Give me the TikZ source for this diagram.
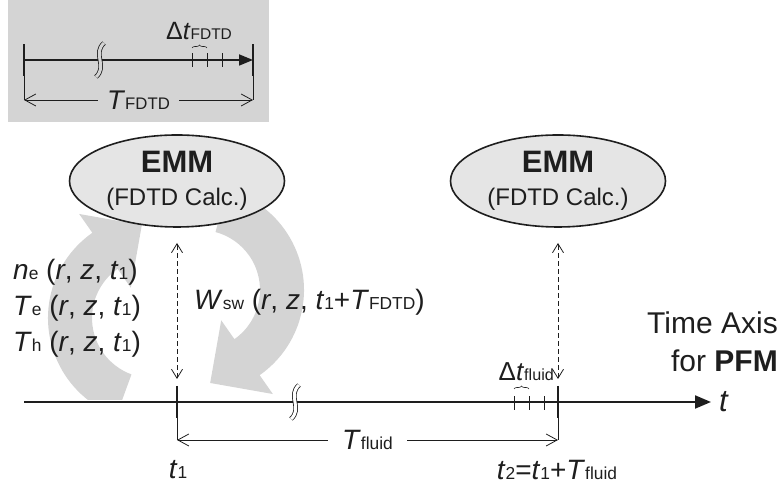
\documentclass[tikz,border=0pt]{standalone}
\usepackage{fontspec}
\setmainfont{Liberation Sans}
\usepackage{graphicx}
\usetikzlibrary{arrows.meta,calc,decorations.pathreplacing,shapes.geometric}
\definecolor{boxgray}{RGB}{212,212,212}
\definecolor{arrgray}{RGB}{212,212,212}
\definecolor{ellgray}{RGB}{229,229,229}
\definecolor{ink}{RGB}{30,30,30}
\newcommand\lo[1]{\scalebox{0.62}{#1}}
\newcommand\iv[1]{\textit{#1}}
\tikzset{
  ell/.style={ellipse, draw=ink, line width=1.6pt, fill=ellgray, minimum width=215pt, minimum height=92pt, inner sep=0pt, align=center, text=ink, font=\fontsize{24}{33}\selectfont},
  dasharr/.style={ink, line width=0.8pt, dash pattern=on 5pt off 3pt, {Straight Barb[length=9pt,width=11pt,line width=0.8pt]}-{Straight Barb[length=9pt,width=11pt,line width=0.8pt]}},
  dimarr/.style={ink, line width=0.8pt, {Straight Barb[length=11pt,width=12pt,line width=0.8pt]}-{Straight Barb[length=11pt,width=12pt,line width=0.8pt]}},
  tick/.style={ink, line width=2.4pt},
  smalltick/.style={ink, line width=1pt},
  brk/.style={draw=ink, line width=0.8pt, double=#1, double distance=3pt},
  lbl/.style={text=ink, inner sep=1pt, font=\fontsize{28}{30}\selectfont},
}
\begin{document}
\begin{tikzpicture}[x=1pt,y=1pt]
\useasboundingbox (0,0) rectangle (779,486);
% ---------- inset ----------
\fill[boxgray] (8,364) rectangle (269,486);
\coordinate (iL) at (24,426);
\coordinate (iR) at (253,426);
\coordinate (iLd) at (24,386);
\coordinate (iRd) at (253,386);
\draw[ink, line width=1.8pt, -{Triangle[length=14pt,width=11pt]}] (iL) -- (iR);
\draw[tick, line width=2pt] (24,410) -- (24,442);
\draw[tick, line width=2pt] (253,410) -- (253,442);
\draw[ink, line width=0.6pt] (24,410) -- (iLd);
\draw[ink, line width=0.6pt] (253,410) -- (iRd);
\draw[brk=boxgray] (104,443) .. controls (92,432) and (108,420) .. (96,409);
\foreach \x in {192,207,222} \draw[smalltick] (\x,419) -- (\x,433);
\draw[ink, line width=0.6pt, decorate, decoration={brace, amplitude=3pt}] (192,438) -- (207,438);
\node[lbl, font=\fontsize{25}{26}\selectfont] (dtf) at (199,455) {Δ\iv{t}\lo{FDTD}};
\draw[dimarr] (iLd) -- (iRd) node[lbl, midway, fill=boxgray, inner xsep=9pt, inner ysep=2pt, font=\fontsize{27}{29}\selectfont] (tf) {\iv{T}\lo{FDTD}};
% ---------- gray cycle arrows ----------
\coordinate (Cr) at (200,196);
\coordinate (Cl) at (152,168);
\fill[arrgray] ($(Cr)+(75:104)$) arc[start angle=75, end angle=-55, radius=104]
  -- ($(Cr)+(-55:127)$) -- ($(Cr)+(-55:82)+(-145:45)$) -- ($(Cr)+(-55:37)$)
  -- ($(Cr)+(-55:60)$) arc[start angle=-55, end angle=75, radius=60] -- cycle;
\begin{scope}
\clip (0,86) rectangle (400,486);
\fill[arrgray] ($(Cl)+(250:104)$) arc[start angle=250, end angle=125, radius=104]
  -- ($(Cl)+(125:127)$) -- ($(Cl)+(125:82)+(35:45)$) -- ($(Cl)+(125:37)$)
  -- ($(Cl)+(125:60)$) arc[start angle=125, end angle=250, radius=60] -- cycle;
\end{scope}
% ---------- ellipses ----------
\node[ell] (e1) at (177,305) {{\fontsize{31}{32}\selectfont\bfseries EMM}\\(FDTD Calc.)};
\node[ell] (e2) at (558,305) {{\fontsize{31}{32}\selectfont\bfseries EMM}\\(FDTD Calc.)};
% ---------- time axis ----------
\coordinate (a0) at (24,84);
\coordinate (a1) at (711,84);
\draw[ink, line width=2pt, -{Triangle[length=16pt,width=13pt]}] (a0) -- (a1);
\node[lbl, anchor=west, font=\fontsize{31}{32}\selectfont] (tl) at (718,84) {\iv{t}};
\draw[brk=white] (299,101) .. controls (287,90) and (303,78) .. (291,67);
\draw[tick] (177,100) -- (177,68);
\draw[tick] (558,100) -- (558,68);
\coordinate (t1d) at (177,46);
\coordinate (t2d) at (558,46);
\draw[ink, line width=0.6pt] (177,68) -- (t1d);
\draw[ink, line width=0.6pt] (558,68) -- (t2d);
\foreach \x in {514,529,544} \draw[smalltick] (\x,76) -- (\x,90);
\draw[ink, line width=0.6pt, decorate, decoration={brace, amplitude=3pt}] (514,97) -- (529,97);
\node[lbl, font=\fontsize{26}{26}\selectfont, anchor=east, inner sep=0pt] (dtfl) at (554,114) {Δ\iv{t}\lo{fluid}};
\draw[dimarr] (t1d) -- (t2d) node[lbl, midway, fill=white, inner xsep=14pt, inner ysep=2pt] (tfl) {\iv{T}\lo{fluid}};
\node[lbl] (t1l) at (178,16) {\iv{t}\lo{1}};
\node[lbl] (t2l) at (557,16) {\iv{t}\lo{2}=\iv{t}\lo{1}+\iv{T}\lo{fluid}};
% ---------- dashed links ----------
\coordinate (d1t) at (177,243);
\coordinate (d1b) at (177,107);
\coordinate (d2t) at (558,243);
\coordinate (d2b) at (558,107);
\draw[dasharr] (d1b) -- (d1t);
\draw[dasharr] (d2b) -- (d2t);
% ---------- texts ----------
\node[lbl, anchor=west, align=left, font=\fontsize{28}{36}\selectfont] (vars) at (12,178)
  {\iv{n}\lo{e} (\iv{r}, \iv{z}, \iv{t}\lo{1})\\ \iv{T}\lo{e} (\iv{r}, \iv{z}, \iv{t}\lo{1})\\ \iv{T}\lo{h} (\iv{r}, \iv{z}, \iv{t}\lo{1})};
\node[lbl, anchor=west] (wsw) at (193,184) {\iv{W}\lo{sw} (\iv{r}, \iv{z}, \iv{t}\lo{1}+\iv{T}\lo{FDTD})};
\node[lbl, anchor=east, align=right, font=\fontsize{30}{38}\selectfont] (pfm) at (779,144) {Time Axis\\for \textbf{PFM}};
\end{tikzpicture}
\end{document}
